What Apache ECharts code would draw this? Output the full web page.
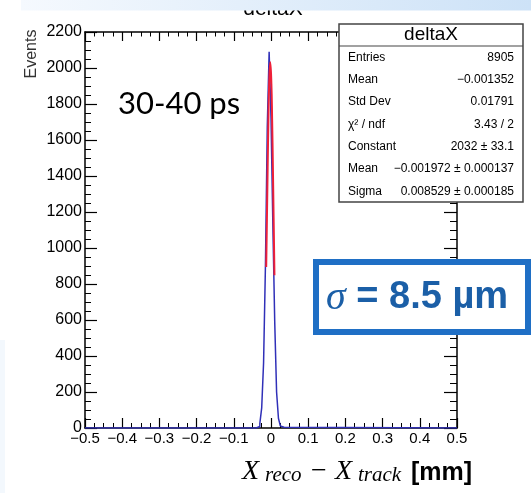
<!DOCTYPE html>
<html>
<head>
<meta charset="utf-8">
<script src="https://cdn.jsdelivr.net/npm/echarts/dist/echarts.min.js"></script>
<style>
    html, body { margin: 0; padding: 0; background: #fff; }
    #main { width: 531px; height: 493px; }
</style>
</head>
<body>
<div id="main"></div>
<script>
// histogram bins (left edge, mm) and counts, bin width 0.005
var binLo = [-0.040, -0.035, -0.030, -0.025, -0.020, -0.015, -0.010, -0.005,
             0.000, 0.005, 0.010, 0.015, 0.020, 0.025, 0.030, 0.035];
var binCounts = [2, 8, 26, 112, 360, 896, 1674, 2090,
                 1722, 1128, 590, 200, 54, 12, 4, 0];
// gaus fit curve
var fitX = [-0.0129, -0.011, -0.009, -0.007, -0.005, -0.002, 0.001, 0.003, 0.005, 0.007, 0.0093];
var fitY = [894, 1160, 1447, 1708, 1908, 2032, 1912, 1715, 1455, 1169, 848];
// stats box
var statNames = ['Entries', 'Mean', 'Std Dev', 'χ² / ndf', 'Constant', 'Mean', 'Sigma'];
var statValues = ['8905', '−0.001352', '0.01791', '3.43 / 2', '2032 ± 33.1',
                  '−0.001972 ± 0.000137', '0.008529 ± 0.000185'];

var FONT = '"Liberation Sans", Arial, sans-serif';

function histData() {
    var d = [[-0.5, 0]];
    for (var i = 0; i < binLo.length; i++) {
        d.push([binLo[i], binCounts[i]]);
    }
    d.push([0.5, 0]);
    return d;
}

function fitData() {
    var d = [];
    for (var i = 0; i < fitX.length; i++) d.push([fitX[i], fitY[i]]);
    return d;
}

function xLabel(v) {
    var r = Math.round(v * 10) / 10;
    if (r === 0) return '0';
    return String(r).replace('-', '−');
}

function axisX(pos, labels, len, minorLen) {
    return {
        type: 'value', position: pos, min: -0.5, max: 0.5, interval: 0.1,
        axisLine: { onZero: false, lineStyle: { color: '#000', width: 1.5 } },
        axisTick: { inside: true, length: len, lineStyle: { color: '#000', width: 1.2 } },
        minorTick: { show: true, splitNumber: 4, length: minorLen, lineStyle: { color: '#000', width: 1 } },
        axisLabel: { show: labels, color: '#000', fontFamily: FONT, fontSize: 15, margin: 3, formatter: xLabel },
        splitLine: { show: false }
    };
}

function axisY(pos, labels, len, minorLen) {
    return {
        type: 'value', position: pos, min: 0, max: 2200, interval: 200,
        axisLine: { onZero: false, lineStyle: { color: '#000', width: 1.5 } },
        axisTick: { inside: true, length: len, lineStyle: { color: '#000', width: 1.2 } },
        minorTick: { show: true, splitNumber: 4, length: minorLen, lineStyle: { color: '#000', width: 1 } },
        axisLabel: {
            show: labels, color: '#000', fontFamily: FONT, fontSize: 16, margin: 3,
            formatter: function (v) { return String(v); }
        },
        splitLine: { show: false }
    };
}

function txt(x, y, s, font, align, fill, extra) {
    var o = {
        type: 'text', z: 100, x: x, y: y,
        style: { text: s, font: font, fill: fill || '#000', textAlign: align || 'left', textVerticalAlign: 'middle' }
    };
    if (extra) for (var k in extra) o[k] = extra[k];
    return o;
}

var graphics = [];
// page title, partly hidden behind the slide strip
graphics.push(txt(273, 20, 'deltaX', '21px ' + FONT, 'center', '#000', { z: 90 }));
graphics[0].style.textVerticalAlign = 'bottom';
graphics.push({
    type: 'rect', z: 95, shape: { x: 21, y: 0, width: 510, height: 10.5 },
    style: { fill: new echarts.graphic.LinearGradient(0, 0, 1, 0, [
        { offset: 0, color: '#f5f9fe' }, { offset: 1, color: '#cde2f7' }]) }
});
graphics.push({ type: 'rect', z: 95, shape: { x: 0, y: 340, width: 5, height: 153 }, style: { fill: '#f3f8fd' } });

// y axis title
graphics.push(txt(32, 54, 'Events', '16px ' + FONT, 'center', '#333', { rotation: Math.PI / 2 }));
graphics.push(txt(118, 104, '30-40 ps', '31px Lato, "Open Sans", sans-serif', 'left', '#000'));

// stats box
graphics.push({
    type: 'rect', z: 100, shape: { x: 339, y: 24, width: 184, height: 178 },
    style: { fill: '#fff', stroke: '#444', lineWidth: 1.5 }
});
graphics.push({ type: 'line', z: 100, shape: { x1: 339, y1: 46, x2: 523, y2: 46 }, style: { stroke: '#444', lineWidth: 1.2 } });
graphics.push(txt(431, 35, 'deltaX', '19px ' + FONT, 'center', '#000'));
for (var i = 0; i < statNames.length; i++) {
    var ry = 57.5 + i * 22.3;
    graphics.push(txt(348, ry, statNames[i], '12px ' + FONT, 'left', '#000'));
    graphics.push(txt(514, ry, statValues[i], '12px ' + FONT, 'right', '#000'));
}

// sigma box
graphics.push({
    type: 'rect', z: 100, shape: { x: 316, y: 262, width: 212, height: 70 },
    style: { fill: '#fff', stroke: '#1f6fc5', lineWidth: 6 }
});
graphics.push({
    type: 'text', z: 101, x: 326, y: 298,
    style: {
        text: '{s|σ}{t| = 8.5 µm}', textVerticalAlign: 'middle',
        rich: {
            s: { font: 'italic 40px "Liberation Serif", serif', fill: '#1b5fa7' },
            t: { font: 'bold 38px ' + FONT, fill: '#1b5fa7' }
        }
    }
});

// x axis title
var SERIF = '"Liberation Serif", "Times New Roman", serif';
graphics.push(txt(242, 472, 'X', 'italic 28px ' + SERIF, 'left'));
graphics.push(txt(265, 475.5, 'reco', 'italic 21px ' + SERIF, 'left'));
graphics.push(txt(311, 472, '−', '28px ' + SERIF, 'left'));
graphics.push(txt(335, 472, 'X', 'italic 28px ' + SERIF, 'left'));
graphics.push(txt(358, 475.5, 'track', 'italic 21px ' + SERIF, 'left'));
graphics.push(txt(411, 473, '[mm]', 'bold 25px ' + FONT, 'left'));

var chart = echarts.init(document.getElementById('main'), null, { renderer: 'canvas' });
var option = {
    animation: false,
    backgroundColor: '#fff',
    grid: { left: 85, right: 74, top: 32, bottom: 65 },
    xAxis: [axisX('bottom', true, 10, 5), axisX('top', false, 9, 4.5)],
    yAxis: [axisY('left', true, 12, 6), axisY('right', false, 13, 7)],
    series: [
        {
            name: 'deltaX', type: 'line', step: 'end', data: histData(),
            symbol: 'none', z: 3,
            lineStyle: { color: '#3030b8', width: 1.5 }
        },
        {
            name: 'gaus', type: 'line', smooth: true, data: fitData(),
            symbol: 'none', z: 4,
            lineStyle: { color: '#ee2038', width: 2 }
        }
    ],
    graphic: graphics
};
chart.setOption(option);
</script>
</body>
</html>
